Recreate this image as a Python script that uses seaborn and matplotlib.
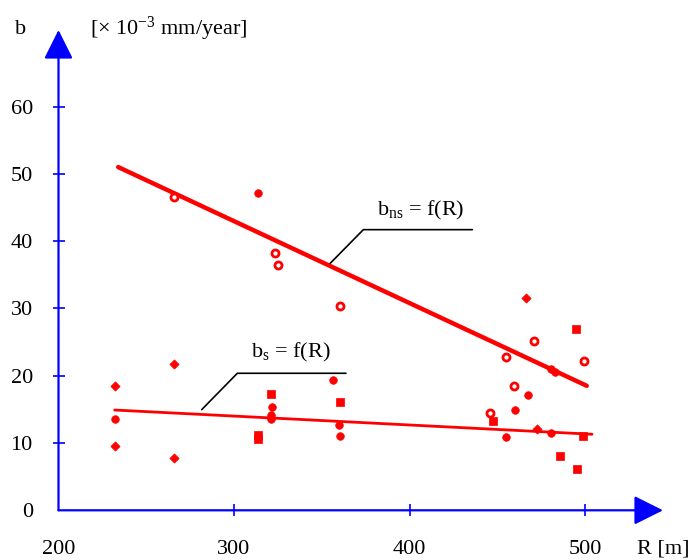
import matplotlib
matplotlib.use("Agg")
import matplotlib.pyplot as plt
import seaborn as sns

# ---------------- data ----------------
# fitted trend lines (end points)
fit_R_ns = [234, 501]
fit_b_ns = [51.0, 18.5]
fit_R_s = [232, 504]
fit_b_s = [14.9, 11.3]

# measured points, grouped by marker shape
diamond_R = [232.2, 232.2, 265.8, 265.8, 466.2, 472.8]
diamond_b = [18.5, 9.6, 21.7, 7.8, 31.5, 12.1]

circle_R = [232.2, 313.7, 356.4, 359.8, 360.4, 321.5, 321.1, 321.1, 480.8, 467.5, 460.3, 455.0, 482.9, 480.4]
circle_b = [13.5, 47.1, 19.3, 12.7, 11.1, 15.4, 14.2, 13.6, 11.5, 17.2, 14.9, 10.9, 20.6, 21.0]

square_R = [313.7, 313.7, 321.1, 360.4, 494.9, 447.8, 499.0, 485.6, 495.6]
square_b = [10.6, 11.2, 17.3, 16.1, 27.0, 13.3, 11.0, 8.0, 6.2]

open_R = [265.8, 323.4, 325.0, 360.4, 455.0, 471.1, 499.6, 459.5, 445.9]
open_b = [46.5, 38.3, 36.4, 30.3, 22.8, 25.2, 22.2, 18.5, 14.4]

x_ticks = [200, 300, 400, 500]
y_ticks = [0, 10, 20, 30, 40, 50, 60]

# ---------------- style ----------------
sns.set_theme(style="white")
plt.rcParams["font.family"] = ["Liberation Serif", "DejaVu Serif"]
plt.rcParams["mathtext.fontset"] = "custom"
plt.rcParams["mathtext.rm"] = "Liberation Serif"
plt.rcParams["mathtext.it"] = "Liberation Serif:italic"
plt.rcParams["text.color"] = "black"

W, H = 692, 560
fig = plt.figure(figsize=(W / 100, H / 100), dpi=100)
x0px, y0px = 58.5, 510.3
xs, ys = 1.755, 6.73
right_px, top_px = 663, 30
ax = fig.add_axes([x0px / W, (H - y0px) / H, (right_px - x0px) / W, (y0px - top_px) / H])
ax.set_xlim(200, 200 + (right_px - x0px) / xs)
ax.set_ylim(0, (y0px - top_px) / ys)
for s in ax.spines.values():
    s.set_visible(False)
ax.set_facecolor("white")

fs = 16

# axes with arrows
arrow = dict(arrowstyle="-|>,head_length=0.9,head_width=0.45", color="blue", lw=1.6,
             mutation_scale=20, shrinkA=0, shrinkB=0)
ax.annotate("", xy=(1, 0), xytext=(0, 0), xycoords="axes fraction", arrowprops=arrow, zorder=1)
ax.annotate("", xy=(0, 1), xytext=(0, 0), xycoords="axes fraction", arrowprops=arrow, zorder=1)

ax.set_xticks(x_ticks)
ax.set_yticks(y_ticks)
ax.set_xticklabels([str(v) for v in x_ticks])
ax.set_yticklabels([str(v) for v in y_ticks])
ax.tick_params(axis="x", direction="inout", length=9, width=1.2, color="blue",
               labelsize=fs, pad=17, bottom=True, labelcolor="black")
ax.tick_params(axis="y", direction="inout", length=9, width=1.2, color="blue",
               labelsize=fs, pad=14, left=True, labelcolor="black")
ax.xaxis.get_major_ticks()[0].tick1line.set_visible(False)
ax.yaxis.get_major_ticks()[0].tick1line.set_visible(False)
ax.grid(False)

# trend lines
sns.lineplot(x=fit_R_ns, y=fit_b_ns, ax=ax, color="red", lw=3.2, zorder=3)
sns.lineplot(x=fit_R_s, y=fit_b_s, ax=ax, color="red", lw=2.0, zorder=3)

# points
sns.scatterplot(x=diamond_R, y=diamond_b, ax=ax, marker="D", s=22, color="red",
                edgecolor="red", linewidth=0.5, zorder=4)
sns.scatterplot(x=circle_R, y=circle_b, ax=ax, marker="o", s=30, color="red",
                edgecolor="red", linewidth=0.5, zorder=4)
sns.scatterplot(x=square_R, y=square_b, ax=ax, marker="s", s=26, color="red",
                edgecolor="red", linewidth=0.5, zorder=4)
sns.scatterplot(x=open_R, y=open_b, ax=ax, marker="o", s=26, color="white",
                edgecolor="red", linewidth=2.0, zorder=4)

# leader lines and labels
ax.plot([353.7, 373.7, 435.8], [36.4, 41.7, 41.7], color="black", lw=1.2, zorder=2)
ax.text(406.5, 44.6, r"b$_{\mathrm{ns}}$ = f(R)", fontsize=fs, ha="center", va="center")
ax.plot([281.6, 301.9, 363.8], [14.96, 20.36, 20.36], color="black", lw=1.2, zorder=2)
ax.text(332.5, 23.4, r"b$_{\mathrm{s}}$ = f(R)", fontsize=fs, ha="center", va="center")

# axis titles
fig.text(21 / W, 1 - 29 / H, "b", fontsize=fs, ha="center", va="center")
fig.text(90 / W, 1 - 29 / H, r"[× 10$^{-3}$ mm/year]", fontsize=fs, ha="left", va="center")
fig.text(663 / W, 1 - 549 / H, "R [m]", fontsize=fs, ha="center", va="center")

fig.savefig("out.png", dpi=100, facecolor="white")
